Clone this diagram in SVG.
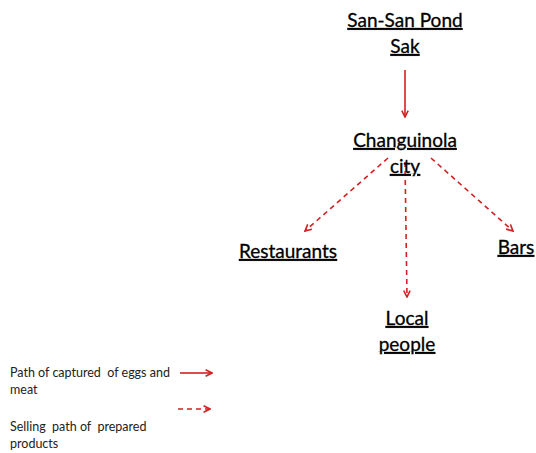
<svg xmlns="http://www.w3.org/2000/svg" width="536" height="453" viewBox="0 0 536 453">
<style>
.n{font-family:Lato,"Open Sans","Liberation Sans",sans-serif;font-size:19px;fill:#000;text-anchor:middle;text-decoration:underline;stroke:#000;stroke-width:0.3}
.l{font-family:Lato,"Open Sans","Liberation Sans",sans-serif;font-size:12.5px;fill:#222;white-space:pre}
.s{stroke:#d42020;stroke-width:1.6;fill:none}
.d{stroke:#d42020;stroke-width:1.6;fill:none;stroke-dasharray:5 4}
</style>
<defs>
<marker id="ah" viewBox="0 0 10 10" refX="9" refY="5" markerWidth="8" markerHeight="8" orient="auto" markerUnits="userSpaceOnUse">
<path d="M1,1 L9,5 L1,9" fill="none" stroke="#d42020" stroke-width="2"/>
</marker>
</defs>
<rect width="536" height="453" fill="#fff"/>
<g id="connectors">
<line class="s" x1="405" y1="70" x2="405" y2="117" marker-end="url(#ah)"/>
<line class="d" x1="388" y1="158" x2="305" y2="231" marker-end="url(#ah)"/>
<line class="d" x1="405" y1="162" x2="407" y2="297" marker-end="url(#ah)"/>
<line class="d" x1="431" y1="158" x2="513" y2="231" marker-end="url(#ah)"/>
</g>
<g id="san-san"><text class="n" x="405" y="27">San-San Pond</text><text class="n" x="405" y="53">Sak</text></g>
<g id="changuinola"><text class="n" x="405" y="147">Changuinola</text><text class="n" x="405" y="173">city</text></g>
<g id="restaurants"><text class="n" x="288" y="258">Restaurants</text></g>
<g id="bars"><text class="n" x="516" y="254">Bars</text></g>
<g id="local"><text class="n" x="407" y="325">Local</text><text class="n" x="407" y="351">people</text></g>
<g id="legend">
<text class="l" x="10" y="377" xml:space="preserve">Path of captured  of eggs and</text>
<text class="l" x="10" y="394">meat</text>
<line class="s" x1="180" y1="373" x2="212" y2="373" marker-end="url(#ah)"/>
<line class="d" x1="178" y1="409" x2="210" y2="409" marker-end="url(#ah)"/>
<text class="l" x="10" y="431" xml:space="preserve">Selling  path of  prepared</text>
<text class="l" x="10" y="448">products</text>
</g>
</svg>
